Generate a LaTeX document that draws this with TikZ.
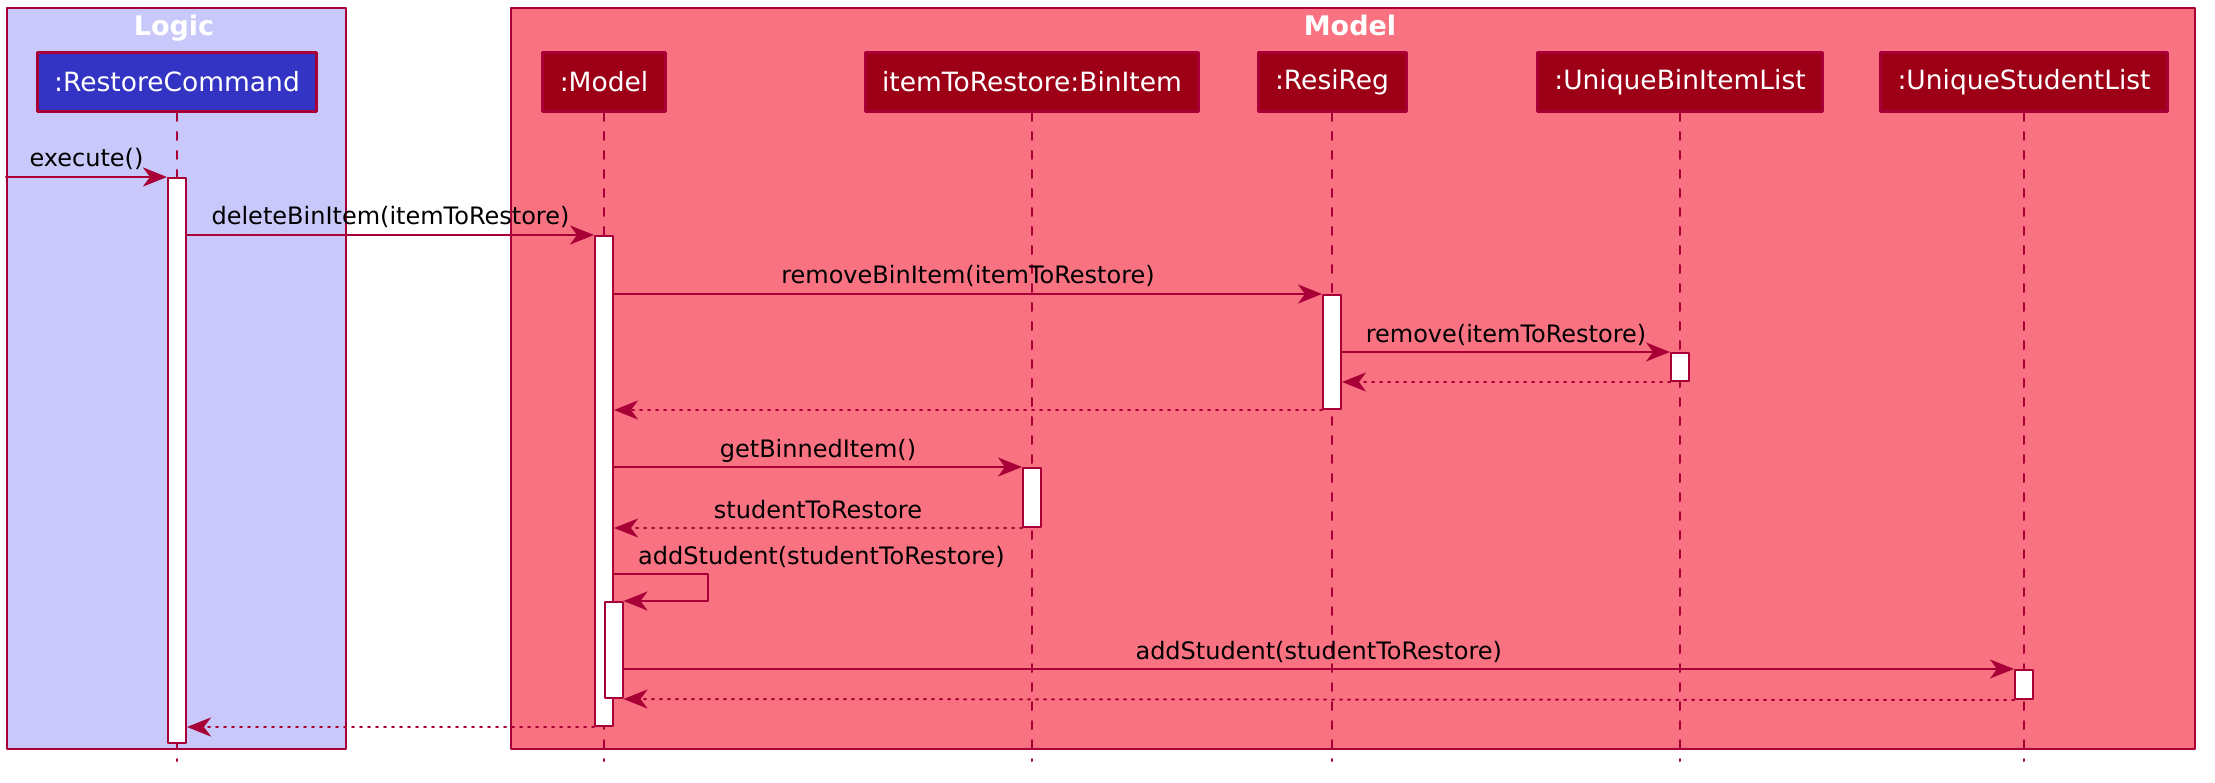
\documentclass[tikz,border=0pt]{standalone}
\usepackage{fontspec}
\setmainfont{DejaVu Sans}
\usetikzlibrary{arrows.meta}
\usetikzlibrary{positioning}
\definecolor{crimson}{RGB}{168,0,54}
\definecolor{logicbg}{RGB}{200,200,250}
\definecolor{modelbg}{RGB}{249,114,130}
\definecolor{partred}{RGB}{157,0,22}
\definecolor{partblue}{RGB}{51,51,196}

\begin{document}
\begin{tikzpicture}[line cap=round,line join=round,>={Stealth[length=24pt,width=19pt,inset=7pt]},x=1pt,y=-1pt,
  frame/.style={draw=crimson,line width=2pt},
  title/.style={text=white,anchor=base,inner sep=0pt,font=\fontsize{27}{30}\selectfont\bfseries},
  part/.style={draw=crimson,line width=3pt,fill=partred,text=white,minimum height=59pt,inner xsep=17pt,font=\fontsize{26.5}{30}\selectfont},
  life/.style={draw=crimson,line width=2pt,dash pattern=on 8pt off 11pt},
  act/.style={draw=crimson,line width=2pt,fill=white,minimum width=18pt,inner sep=0pt,anchor=north},
  msg/.style={->,draw=crimson,line width=2pt},
  ret/.style={msg,dash pattern=on 2pt off 6pt},
  lbl/.style={anchor=base,yshift=10pt,inner sep=0pt,font=\fontsize{24}{28}\selectfont}]
\useasboundingbox (0,0) rectangle (2215,783);

% boxes
\draw[frame,fill=logicbg] (7,8) rectangle (346,749);
\draw[frame,fill=modelbg] (511,8) rectangle (2195,749);
\node[title] (tLogic) at (174,35.5) {Logic};
\node[title] (tModel) at (1350,35.5) {Model};

% participants
\node[part,fill=partblue] (rc) at (177,82) {:RestoreCommand};
\node[part] (mdl) at (604,82) {:Model};
\node[part] (bin) at (1032,82) {itemToRestore:BinItem};
\node[part] (reg) at (1332,82) {:ResiReg};
\node[part] (ubl) at (1680,82) {:UniqueBinItemList};
\node[part] (usl) at (2024,82) {:UniqueStudentList};
\foreach \p in {rc,mdl,bin,reg,ubl,usl}
  \draw[life] (\p.south) -- (\p.south |- 0,761);

% activations
\node[act,minimum height=565pt] (aRC) at (rc |- 0,177) {};
\node[act,minimum height=490pt] (aM) at (mdl |- 0,235) {};
\node[act,minimum height=114pt] (aR) at (reg |- 0,294) {};
\node[act,minimum height=28pt] (aU) at (ubl |- 0,352) {};
\node[act,minimum height=59pt] (aB) at (bin |- 0,467) {};
\node[act,minimum height=96pt] (aN) at (613.5,601) {};
\node[act,minimum height=29pt] (aS) at (usl |- 0,669) {};

% messages
\coordinate (ext) at (6,177);
\coordinate (loop) at (708,574);
\draw[msg] (ext) -- node[lbl] {execute()} (aRC.north west);
\draw[msg] (aRC.east |- aM.north) -- node[lbl] {deleteBinItem(itemToRestore)} (aM.north west);
\draw[msg] (aM.east |- aR.north) -- node[lbl] {removeBinItem(itemToRestore)} (aR.north west);
\draw[msg] (aR.east |- aU.north) -- node[lbl] {remove(itemToRestore)} (aU.north west);
\draw[ret] (aU.south west) -- (aR.east |- aU.south);
\draw[ret] (aR.south west) -- (aM.east |- aR.south);
\draw[msg] (aM.east |- aB.north) -- node[lbl] {getBinnedItem()} (aB.north west);
\draw[ret] (aB.south west) -- node[lbl] {studentToRestore} (aM.east |- aB.south);
\draw[msg] (aM.east |- loop) -- (loop) |- (aN.north east);
\node[lbl,anchor=base west] (self) at ([xshift=24pt]aM.east |- loop) {addStudent(studentToRestore)};
\draw[msg] (aN.east |- aS.north) -- node[lbl] {addStudent(studentToRestore)} (aS.north west);
\draw[ret] (aS.south west) -- (aN.south east);
\draw[ret] (aM.south west) -- (aRC.east |- aM.south);
\end{tikzpicture}
\end{document}
